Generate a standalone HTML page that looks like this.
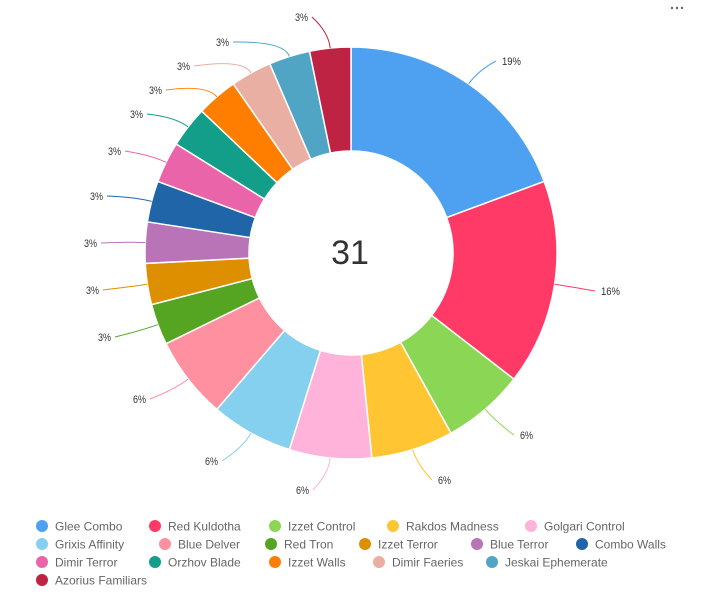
<!DOCTYPE html>
<html><head><meta charset="utf-8"><style>
html,body{margin:0;padding:0;background:#fff;width:702px;height:605px;overflow:hidden}
svg{display:block;font-family:"Liberation Sans",sans-serif}
</style></head><body>
<svg id="s" width="702" height="605" viewBox="0 0 702 605">
<circle cx="672" cy="8" r="1.2" fill="#666"/><circle cx="677" cy="8" r="1.2" fill="#666"/><circle cx="682" cy="8" r="1.2" fill="#666"/>
<g id="slices"></g><g id="lab"></g><g id="leg"></g>
<text x="350" y="264" text-anchor="middle" font-size="34" fill="#333">31</text>
</svg>
<script>
var d=[["Glee Combo","#4da1f0",6],["Red Kuldotha","#ff3a66",5],["Izzet Control","#8cd656",2],["Rakdos Madness","#ffc533",2],["Golgari Control","#ffb3da",2],["Grixis Affinity","#85d0ee",2],["Blue Delver","#ff909f",2],["Red Tron","#55a523",1],["Izzet Terror","#de8f00",1],["Blue Terror","#b974b8",1],["Combo Walls","#1f65a8",1],["Dimir Terror","#ea64a9",1],["Orzhov Blade","#129e89",1],["Izzet Walls","#ff7e00",1],["Dimir Faeries","#e9afa3",1],["Jeskai Ephemerate","#51a5c4",1],["Azorius Familiars","#be2343",1]];
var lp=[["19%",502,65],["16%",601,295],["6%",520,439],["6%",438,484],["6%",296,494],["6%",205,465],["6%",133,403],["3%",98,341],["3%",86,294],["3%",84,247],["3%",90,200],["3%",108,155],["3%",130,118],["3%",149,94],["3%",177,70],["3%",216,46],["3%",295,21]];
var cx=351,cy=253,R=206,r=102,a=0,h="";
function P(rad,ang){return [cx+rad*Math.sin(ang),cy-rad*Math.cos(ang)];}
var lab="";
d.forEach(function(e,i){var s=a,t=a+e[2]/31*2*Math.PI;a=t;
var p1=P(R,s),p2=P(R,t),p3=P(r,t),p4=P(r,s),lg=(t-s)>Math.PI?1:0;
h+='<path d="M'+p1+' A'+R+','+R+' 0 '+lg+' 1 '+p2+' L'+p3+' A'+r+','+r+' 0 '+lg+' 0 '+p4+'Z" fill="'+e[1]+'" stroke="#fff" stroke-width="1.5"/>';
var m=(s+t)/2,q=P(R,m),q2=P(R+16,m),L=lp[i],right=Math.sin(m)>=0;
var tw=L[0].length*6+1;
var ex=right?L[1]-6:L[1]+tw+4;
lab+='<path d="M'+q+' Q'+q2+' '+ex+','+(L[2]-4)+'" fill="none" stroke="'+e[1]+'" stroke-width="1"/>';
lab+='<text x="'+L[1]+'" y="'+L[2]+'" font-size="11" fill="#333" textLength="'+tw+'" lengthAdjust="spacingAndGlyphs">'+L[0]+'</text>';
});
document.getElementById("slices").innerHTML=h;
document.getElementById("lab").innerHTML=lab;
var pos=[[42,526],[155,526],[275,526],[393,526],[531,526],[42,544],[165,544],[271,544],[365,544],[477,544],[582,544],[42,562],[155,562],[275,562],[379,562],[492,562],[42,580]];
var g="";d.forEach(function(e,i){var p=pos[i];g+='<circle cx="'+p[0]+'" cy="'+p[1]+'" r="6" fill="'+e[1]+'"/><text x="'+(p[0]+13)+'" y="'+(p[1]+4.5)+'" font-size="12" fill="#666">'+e[0]+'</text>';});
document.getElementById("leg").innerHTML=g;
</script>
</body></html>
